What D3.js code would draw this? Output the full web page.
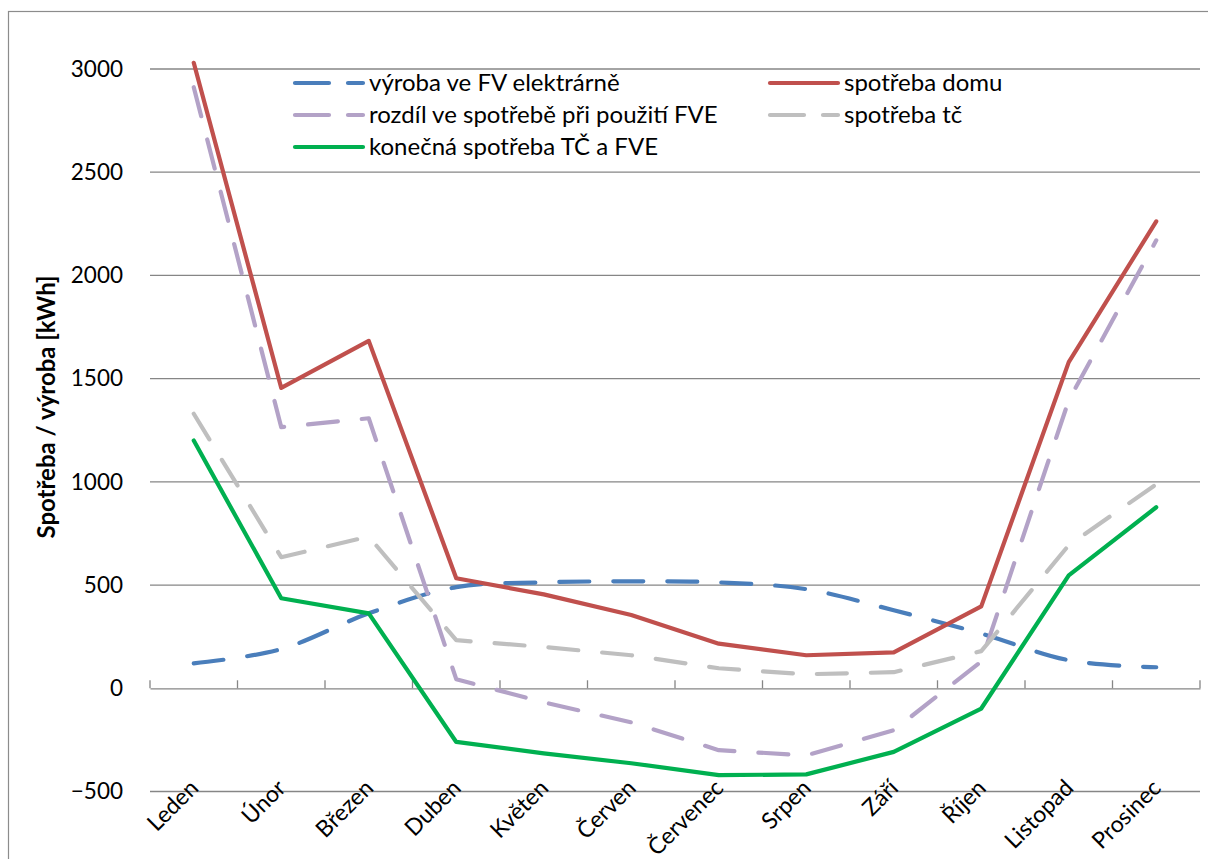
<!DOCTYPE html>
<html>
<head>
<meta charset="utf-8">
<script src="https://cdn.jsdelivr.net/npm/d3@7"></script>
<style>
  html, body { margin: 0; padding: 0; background: #fff; }
  svg { display: block; font-family: Lato, "Open Sans", sans-serif; }
</style>
</head>
<body>
<svg id="chart" width="1208" height="859"></svg>
<script>
// Months of the year
const months = ["Leden", "Únor", "Březen", "Duben", "Květen", "Červen",
  "Červenec", "Srpen", "Září", "Říjen", "Listopad", "Prosinec"];

// Monthly values in kWh
const vyrobaFV   = [121, 190, 363, 490, 513, 518, 513, 480, 378, 265, 136, 102];
const spotrebaDomu = [3030, 1455, 1683, 533, 455, 355, 216, 160, 174, 397, 1580, 2262];
const rozdilFVE  = [2912, 1265, 1308, 44, -68, -165, -300, -325, -203, 130, 1395, 2170];
const spotrebaTC = [1330, 635, 735, 233, 200, 160, 97, 68, 78, 180, 693, 988];
const konecna    = [1200, 436, 363, -260, -315, -363, -421, -417, -308, -98, 547, 877];

const yTicks = [-500, 0, 500, 1000, 1500, 2000, 2500, 3000];

const series = [
  { name: "výroba ve FV elektrárně", values: vyrobaFV, color: "#4A7EBB", dash: "30,24", smooth: true },
  { name: "spotřeba domu", values: spotrebaDomu, color: "#C0504D", dash: null },
  { name: "rozdíl ve spotřebě při použití FVE", values: rozdilFVE, color: "#B3A2C7", dash: "30,24" },
  { name: "spotřeba tč", values: spotrebaTC, color: "#BFBFBF", dash: "30,24" },
  { name: "konečná spotřeba TČ a FVE", values: konecna, color: "#00B050", dash: null }
];

const svg = d3.select("#chart");
const plot = { left: 150, right: 1200, top: 69, bottom: 791.5 };

// Outer frame
svg.append("rect")
  .attr("x", 8.5).attr("y", 11.5)
  .attr("width", 1220).attr("height", 880)
  .attr("fill", "none").attr("stroke", "#8C8C8C").attr("stroke-width", 1.2);

const x = d3.scaleBand().domain(months).range([plot.left, plot.right]);
const y = d3.scaleLinear().domain([-500, 3000]).range([plot.bottom, plot.top]);

// Horizontal gridlines
svg.append("g").selectAll("line").data(yTicks.filter(d => d !== 0)).join("line")
  .attr("x1", plot.left).attr("x2", plot.right)
  .attr("y1", d => y(d)).attr("y2", d => y(d))
  .attr("stroke", "#868686").attr("stroke-width", 1.3);

// Y axis labels
const yAxis = svg.append("g")
  .attr("transform", `translate(${plot.left},0)`)
  .call(d3.axisLeft(y).tickValues(yTicks).tickSize(0).tickPadding(27).tickFormat(d3.format("d")));
yAxis.select(".domain").remove();
yAxis.selectAll("text").attr("font-size", 22.5).attr("fill", "#000")
  .attr("font-family", "Lato, sans-serif");

// Category axis along zero
const xAxis = svg.append("g")
  .attr("transform", `translate(0,${y(0)})`)
  .call(d3.axisTop(x).tickSize(0).tickFormat(""));
xAxis.select(".domain").attr("stroke", "#868686").attr("stroke-width", 1.3);
const boundaries = d3.range(months.length + 1).map(i => plot.left + i * x.step());
xAxis.append("g").selectAll("line").data(boundaries).join("line")
  .attr("x1", d => d).attr("x2", d => d)
  .attr("y1", 0).attr("y2", -8)
  .attr("stroke", "#868686").attr("stroke-width", 1.3);

// Rotated month labels under the plot
svg.append("g").selectAll("text").data(months).join("text")
  .attr("transform", d => `translate(${x(d) + x.bandwidth() / 2 + 6},${plot.bottom - 2}) rotate(-45)`)
  .attr("text-anchor", "end")
  .attr("font-size", 23)
  .attr("fill", "#000")
  .text(d => d);

// Y axis title
svg.append("text")
  .attr("transform", `translate(55,407) rotate(-90)`)
  .attr("text-anchor", "middle")
  .attr("font-size", 24)
  .attr("font-weight", "bold")
  .attr("fill", "#000")
  .text("Spotřeba / výroba [kWh]");

// Series lines
series.forEach(s => {
  const line = d3.line()
    .x((d, j) => x(months[j]) + x.bandwidth() / 2)
    .y(d => y(d))
    .curve(s.smooth ? d3.curveCatmullRom.alpha(0) : d3.curveLinear);
  svg.append("path")
    .datum(s.values)
    .attr("d", line)
    .attr("fill", "none")
    .attr("stroke", s.color)
    .attr("stroke-width", 4.2)
    .attr("stroke-linecap", "round")
    .attr("stroke-linejoin", "round")
    .attr("stroke-dasharray", s.dash);
});

// Legend
const legendItems = [
  { s: series[0], x: 293, y: 83 },
  { s: series[1], x: 768, y: 83 },
  { s: series[2], x: 293, y: 115 },
  { s: series[3], x: 768, y: 115 },
  { s: series[4], x: 293, y: 147 }
];
const legend = svg.append("g");
legendItems.forEach(it => {
  legend.append("line")
    .attr("x1", it.x + 2).attr("x2", it.x + 70)
    .attr("y1", it.y).attr("y2", it.y)
    .attr("stroke", it.s.color)
    .attr("stroke-width", 4.2)
    .attr("stroke-linecap", "round")
    .attr("stroke-dasharray", it.s.dash ? "34,19" : null);
  legend.append("text")
    .attr("x", it.x + 76).attr("y", it.y)
    .attr("dy", "0.35em")
    .attr("font-size", 24)
    .attr("fill", "#000")
    .text(it.s.name);
});
</script>
</body>
</html>
